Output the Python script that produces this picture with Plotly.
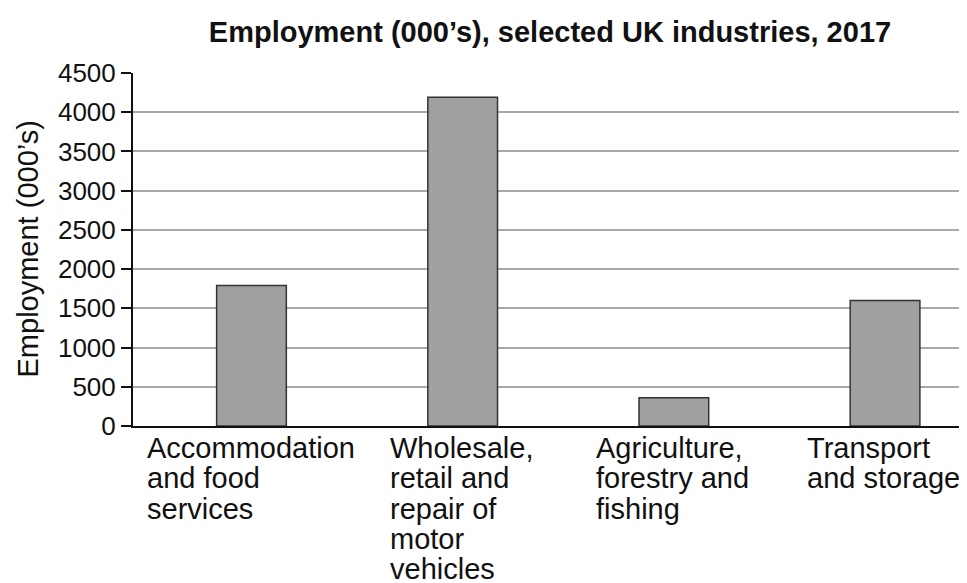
import plotly.graph_objects as go

categories = ["Accommodation and food services",
              "Wholesale, retail and repair of motor vehicles",
              "Agriculture, forestry and fishing",
              "Transport and storage"]
label_lines = [["Accommodation", "and food", "services"],
               ["Wholesale,", "retail and", "repair of", "motor", "vehicles"],
               ["Agriculture,", "forestry and", "fishing"],
               ["Transport", "and storage"]]
values = [1790, 4190, 360, 1600]
y_ticks = [0, 500, 1000, 1500, 2000, 2500, 3000, 3500, 4000, 4500]

FONT = "Liberation Sans, Arial, sans-serif"
LABEL_SIZE = 29

# Approximate Arial / Liberation Sans advance widths (per 1000 em) used to
# centre each left-aligned label block under its bar.
_W = {"A": 667, "W": 944, "T": 611, "a": 556, "b": 556, "c": 500, "d": 556,
      "e": 556, "f": 278, "g": 556, "h": 556, "i": 222, "k": 500, "l": 222,
      "m": 833, "n": 556, "o": 556, "p": 556, "r": 333, "s": 500, "t": 278,
      "u": 556, "v": 500, "y": 500, ",": 278, " ": 278}


def text_width(s, size):
    return sum(_W.get(ch, 556) for ch in s) * size / 1000.0


fig = go.Figure()
fig.add_trace(go.Bar(
    x=list(range(len(categories))), y=values,
    width=0.33,
    marker=dict(color="#a0a0a0", line=dict(color="#333333", width=1.5)),
    hovertext=categories,
))

annotations = []
line_gap = 30.3
for i, lines in enumerate(label_lines):
    block_w = max(text_width(s, LABEL_SIZE) for s in lines)
    for j, line in enumerate(lines):
        annotations.append(dict(
            x=i, xref="x", xanchor="left", xshift=-block_w / 2 - 3,
            y=0, yref="paper", yanchor="top", yshift=-4 - j * line_gap,
            text=line, showarrow=False, align="left",
            font=dict(family=FONT, size=LABEL_SIZE, color="#111111"),
        ))

annotations.append(dict(
    x=0, xref="paper", xshift=-106, xanchor="center",
    y=0.5, yref="paper", yanchor="middle",
    text="Employment (000’s)", textangle=-90, showarrow=False,
    font=dict(family=FONT, size=29, color="#111111"),
))

fig.update_layout(
    width=959, height=575,
    margin=dict(l=125, r=0, t=65, b=157, pad=0),
    paper_bgcolor="white", plot_bgcolor="white",
    showlegend=False,
    title=dict(text="<b>Employment (000’s), selected UK industries, 2017</b>",
               x=0.5, xref="paper", xanchor="center",
               y=1 - 24 / 575, yref="container", yanchor="middle",
               font=dict(family=FONT, size=29, color="#111111")),
    annotations=annotations,
    xaxis=dict(range=[-0.561, 3.388], showticklabels=False, ticks="",
               showgrid=False, zeroline=False,
               showline=True, linecolor="#111111", linewidth=2),
    yaxis=dict(range=[0, 4500], tickvals=y_ticks, ticks="outside", ticklen=10,
               tickcolor="#111111", tickwidth=1.5,
               tickfont=dict(family=FONT, size=26, color="#111111"),
               showgrid=True, gridcolor="#a8a8a8", gridwidth=1.5,
               zeroline=False, showline=True, linecolor="#111111", linewidth=2),
)

fig.write_html("out.html")
